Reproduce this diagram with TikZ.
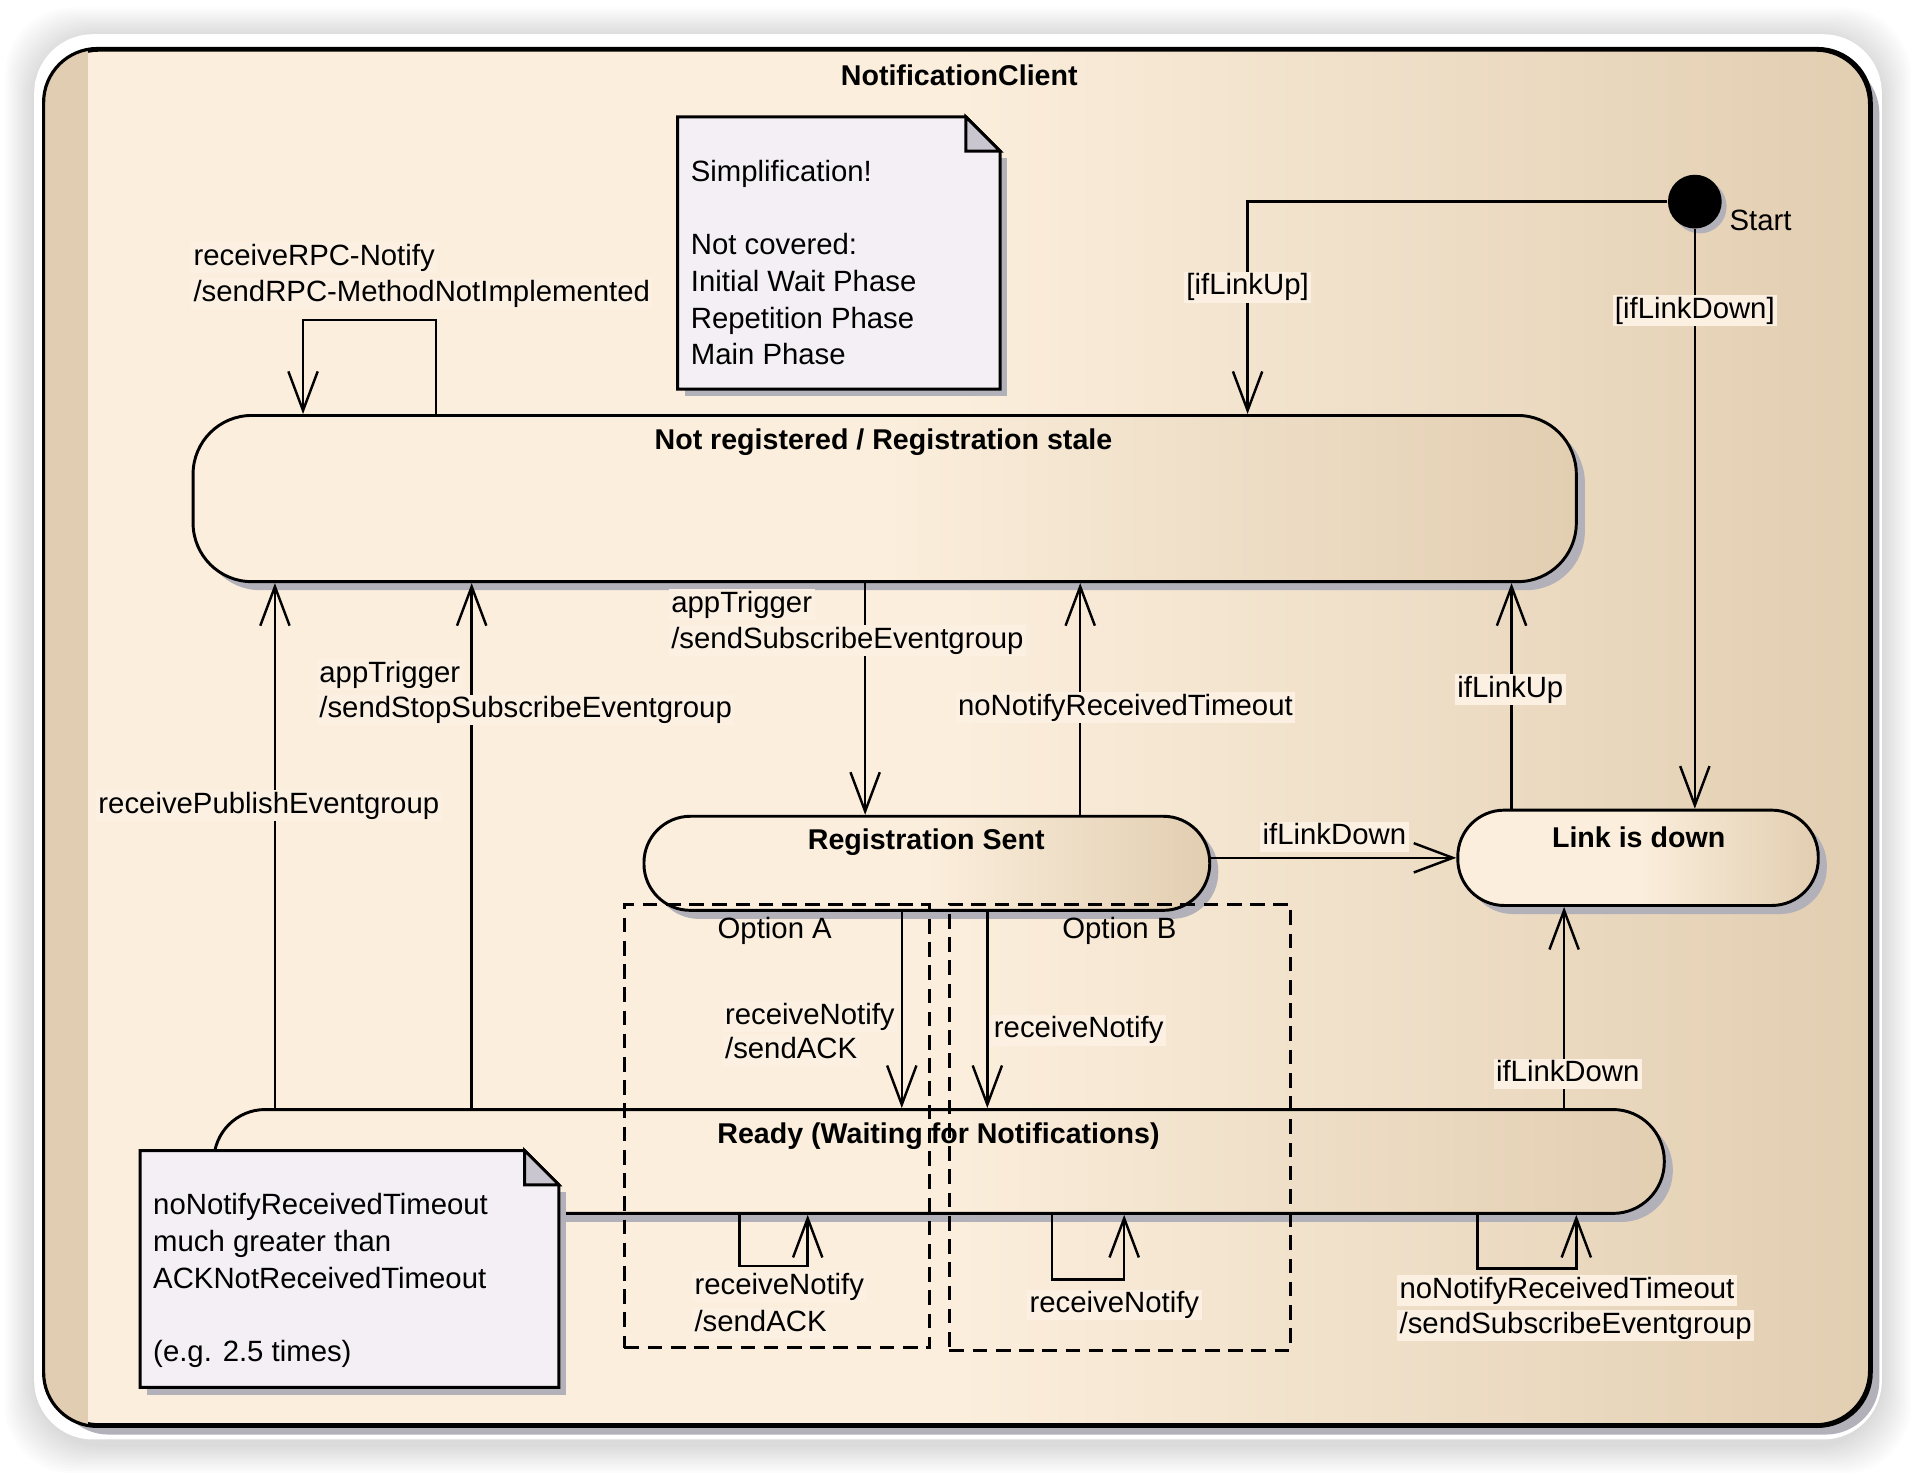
\documentclass[tikz,border=0pt]{standalone}
\usepackage{fontspec}
\setmainfont{Liberation Sans}
\usetikzlibrary{arrows.meta,shadows}
\definecolor{ccream}{RGB}{251,238,220}
\definecolor{ctan}{RGB}{226,206,177}
\definecolor{cband}{RGB}{224,205,178}
\definecolor{cnote}{RGB}{243,239,245}
\definecolor{cfold}{RGB}{201,198,208}
\definecolor{cshadow}{RGB}{178,176,184}
\definecolor{clbl}{RGB}{251,240,225}
\tikzset{
 txt/.style={font=\fontsize{12}{15}\selectfont, inner sep=0pt},
 lbl/.style={txt, fill=clbl, inner xsep=1pt, inner ysep=0.5pt, text height=9pt, text depth=2.6pt},
 ttl/.style={font=\bfseries\fontsize{11.7}{14}\selectfont, inner sep=0pt},
 state/.style={draw, line width=1.2pt, left color=ccream, right color=ctan, middle color=ccream, inner sep=0pt,
   drop shadow={shadow xshift=3.5pt, shadow yshift=-3.5pt, fill=cshadow, opacity=1}},
 arr/.style={line width=1pt, -{Straight Barb[length=16pt, width=12pt, line width=1pt]}},
 optbox/.style={draw, line width=1.2pt, dash pattern=on 6pt off 3.5pt, inner sep=0pt},
 notebox/.style={inner sep=0pt},
}
\begin{document}
\begin{tikzpicture}[x=0.5pt,y=-0.5pt]
\useasboundingbox (0,0) rectangle (1568,1205);
\fill[white] (0,0) rectangle (1568,1205);
% card with soft shadow
\foreach \i in {1,...,12} {
  \fill[black, opacity=0.012, rounded corners=28pt] (28-2*\i, 30-2*\i) rectangle (1540+2*\i, 1182+2*\i);
}
\fill[white, rounded corners=24pt] (28,28) rectangle (1540,1178);

% frame
\node[draw, line width=1.3pt, rounded corners=22pt, minimum width=746.5pt, minimum height=562.5pt,
  left color=ccream, right color=ctan, middle color=ccream, inner sep=0pt,
  drop shadow={shadow xshift=4pt, shadow yshift=-4pt, fill=cshadow, opacity=1}] (frame) at (783.5,603.5) {};
\begin{scope}
  \clip[rounded corners=22pt] (frame.south west) rectangle (frame.north east);
  \fill[cband] (frame.north west) rectangle ([xshift=18pt]frame.south west);
\end{scope}
\draw[line width=1.3pt, rounded corners=22pt] (frame.south west) rectangle (frame.north east);
\node[ttl] (frametitle) at (785,62) {NotificationClient};

% note 1
\node[notebox, minimum width=131.5pt, minimum height=111pt] (n1) at (686.5,207) {};
\fill[cshadow] ([shift={(3pt,-17pt)}]n1.north east) rectangle ([shift={(3pt,-3pt)}]n1.south west);
\filldraw[fill=cnote, line width=1.2pt] (n1.north west) -- ([xshift=-14pt]n1.north east) -- ([yshift=-14pt]n1.north east) -- (n1.south east) -- (n1.south west) -- cycle;
\filldraw[fill=cfold, line width=1.2pt] ([xshift=-14pt]n1.north east) -- ([xshift=-14pt,yshift=-14pt]n1.north east) -- ([yshift=-14pt]n1.north east) -- cycle;
\node[txt, align=left, anchor=west] (n1text) at (565,215) {Simplification!\\[15pt]Not covered:\\Initial Wait Phase\\Repetition Phase\\Main Phase};

% states
\node[state, minimum width=566pt, minimum height=68pt, rounded corners=24pt] (NR) at (724,408) {};
\node[ttl] (NRt) at (723,362) {Not registered / Registration stale};
\node[state, minimum width=231.5pt, minimum height=38.5pt, rounded corners=19pt] (RS) at (758.5,706.5) {};
\node[ttl] (RSt) at (758,689) {Registration Sent};
\node[state, minimum width=147.5pt, minimum height=39pt, rounded corners=19pt] (LD) at (1340.5,702) {};
\node[ttl] (LDt) at (1341,685) {Link is down};
\node[state, minimum width=593.5pt, minimum height=42.5pt, rounded corners=21pt] (Ready) at (768.5,950.5) {};
\node[ttl] (Readyt) at (768,930) {Ready (Waiting for Notifications)};

% start
\node[circle, fill=black, minimum size=22pt, inner sep=0pt,
  drop shadow={shadow xshift=2pt, shadow yshift=-2pt, fill=cshadow, opacity=1}] (start) at (1387,165) {};
\node[txt, anchor=west] (startl) at (1415,180) {Start};

% option boxes
\node[optbox, minimum width=125pt, minimum height=181.5pt] (optA) at (636,921.5) {};
\node[optbox, minimum width=139.5pt, minimum height=182.5pt] (optB) at (916.5,922.5) {};
\node[txt] (optAt) at (634,762) {Option A};
\node[txt] (optBt) at (916,762) {Option B};

% note 2
\node[notebox, minimum width=171pt, minimum height=96.5pt] (n2) at (286,1038.5) {};
\fill[cshadow] ([shift={(3pt,-17pt)}]n2.north east) rectangle ([shift={(3pt,-3pt)}]n2.south west);
\filldraw[fill=cnote, line width=1.2pt] (n2.north west) -- ([xshift=-14pt]n2.north east) -- ([yshift=-14pt]n2.north east) -- (n2.south east) -- (n2.south west) -- cycle;
\filldraw[fill=cfold, line width=1.2pt] ([xshift=-14pt]n2.north east) -- ([xshift=-14pt,yshift=-14pt]n2.north east) -- ([yshift=-14pt]n2.north east) -- cycle;
\node[txt, align=left, anchor=west] (n2text) at (125,1048) {noNotifyReceivedTimeout\\much greater than\\ACKNotReceivedTimeout\\[15pt](e.g. 2.5 times)};

% x positions
\foreach \xx in {225,248,357,386,605,661,708,738,808,861,884,920,1021,1209,1237,1280,1290} {
  \coordinate (x\xx) at (\xx,0);
}

% connectors
\draw[arr] (NR.north -| x357) -- ++(0,-77) -| (NR.north -| x248);
\draw[arr] (start.west) -| (NR.north -| x1021);
\draw[arr] (start.south) -- (start.south |- LD.north);
\draw[arr] (Ready.north -| x225) -- (NR.south -| x225);
\draw[arr] (Ready.north -| x386) -- (NR.south -| x386);
\draw[arr] (NR.south -| x708) -- (RS.north -| x708);
\draw[arr] (RS.north -| x884) -- (NR.south -| x884);
\draw[arr] (LD.north -| x1237) -- (NR.south -| x1237);
\draw[arr] (RS.east |- LD.west) -- (LD.west);
\draw[arr] (Ready.north -| x1280) -- (LD.south -| x1280);
\draw[arr] (RS.south -| x738) -- (Ready.north -| x738);
\draw[arr] (RS.south -| x808) -- (Ready.north -| x808);
\draw[arr] (Ready.south -| x605) -- ++(0,42) -| (Ready.south -| x661);
\draw[arr] (Ready.south -| x861) -- ++(0,53) -| (Ready.south -| x920);
\draw[arr] (Ready.south -| x1209) -- ++(0,44) -| (Ready.south -| x1290);

% labels
\node[lbl, anchor=west] (l1a) at (156,211) {receiveRPC-Notify};
\node[lbl, anchor=west] (l1b) at (156,240) {/sendRPC-MethodNotImplemented};
\node[lbl] (l2) at (1021,235) {[ifLinkUp]};
\node[lbl] (l3) at (1387,254) {[ifLinkDown]};
\node[lbl] (l4) at (220,659) {receivePublishEventgroup};
\node[lbl, anchor=west] (l5a) at (259,552) {appTrigger};
\node[lbl, anchor=west] (l5b) at (259,581) {/sendStopSubscribeEventgroup};
\node[lbl, anchor=west] (l6a) at (547,495) {appTrigger};
\node[lbl, anchor=west] (l6b) at (547,524) {/sendSubscribeEventgroup};
\node[lbl] (l7) at (921,579) {noNotifyReceivedTimeout};
\node[lbl] (l8) at (1236,564) {ifLinkUp};
\node[lbl] (l9) at (1092,685) {ifLinkDown};
\node[lbl] (l10) at (1283,879) {ifLinkDown};
\node[lbl, anchor=west] (l11a) at (591,832) {receiveNotify};
\node[lbl, anchor=west] (l11b) at (591,860) {/sendACK};
\node[lbl, anchor=west] (l12) at (811,843) {receiveNotify};
\node[lbl, anchor=west] (l13a) at (566,1053) {receiveNotify};
\node[lbl, anchor=west] (l13b) at (566,1083) {/sendACK};
\node[lbl] (l14) at (912,1068) {receiveNotify};
\node[lbl, anchor=west] (l15a) at (1143,1056) {noNotifyReceivedTimeout};
\node[lbl, anchor=west] (l15b) at (1143,1085) {/sendSubscribeEventgroup};
\end{tikzpicture}
\end{document}
